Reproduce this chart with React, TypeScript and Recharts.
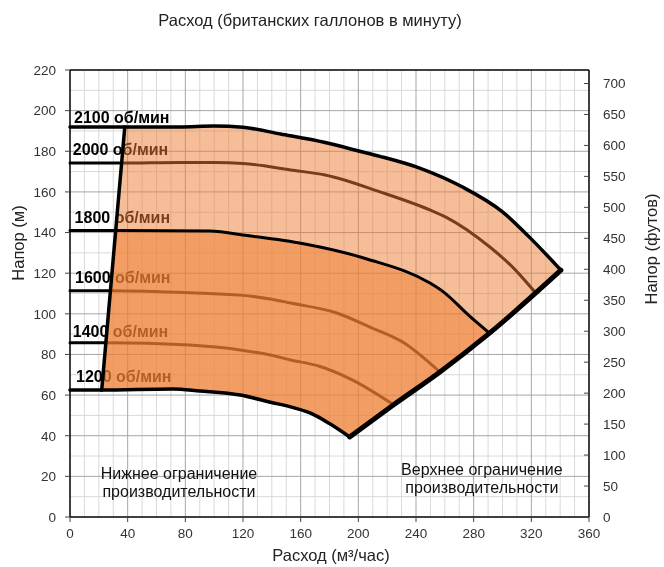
import React from 'react';
import { ComposedChart, XAxis, YAxis, Line, Area, Scatter, ReferenceLine } from 'recharts';

type P = { x: number; y: number };

const FONT = '"Liberation Sans", Arial, sans-serif';

// Axis ticks
const flowTicks = [0, 40, 80, 120, 160, 200, 240, 280, 320, 360];
const flowMinorTicks = [10, 20, 30, 50, 60, 70, 90, 100, 110, 130, 140, 150, 170, 180, 190, 210, 220, 230, 250, 260, 270, 290, 300, 310, 330, 340, 350];
const headTicks = [0, 20, 40, 60, 80, 100, 120, 140, 160, 180, 200, 220];
const headMinorTicks = [10, 30, 50, 70, 90, 110, 130, 150, 170, 190, 210];
const gpmTicks = [0, 200, 400, 600, 800, 1000, 1200];
const feetTicks = [0, 50, 100, 150, 200, 250, 300, 350, 400, 450, 500, 550, 600, 650, 700];
const feetRange: P[] = [{ x: 0, y: 0 }, { x: 0, y: 721.8 }];

// Pump curves (flow m3/h, head m), starting at the minimum-flow line
const curve2100: P[] = [
  { x: 38, y: 192 }, { x: 76, y: 192 }, { x: 100, y: 192.4 }, { x: 120, y: 191.8 }, { x: 146, y: 188.5 },
  { x: 177, y: 184.3 }, { x: 201, y: 180 }, { x: 215, y: 177.5 }, { x: 243, y: 171.6 }, { x: 272, y: 162.5 },
  { x: 300, y: 150.2 }, { x: 319, y: 137.5 }, { x: 340.5, y: 121.5 },
];
const curve2000: P[] = [
  { x: 36, y: 174.2 }, { x: 76, y: 174.5 }, { x: 100, y: 174.5 }, { x: 120, y: 174 }, { x: 153, y: 170.8 },
  { x: 177, y: 168.3 }, { x: 215, y: 160 }, { x: 250, y: 151 }, { x: 261, y: 147.5 }, { x: 291, y: 133 },
  { x: 307, y: 123 }, { x: 322.5, y: 110.7 },
];
const curve1800: P[] = [
  { x: 32, y: 141 }, { x: 97, y: 140.7 }, { x: 123, y: 138.5 }, { x: 162, y: 134.5 }, { x: 206, y: 127 },
  { x: 250, y: 115 }, { x: 259, y: 110.8 }, { x: 277, y: 99 }, { x: 291, y: 90.5 },
];
const curve1600: P[] = [
  { x: 28, y: 111.4 }, { x: 83, y: 110.4 }, { x: 118, y: 109.2 }, { x: 139, y: 107.3 }, { x: 153, y: 105.3 },
  { x: 185, y: 100.4 }, { x: 208, y: 93.5 }, { x: 231, y: 86 }, { x: 256.5, y: 71.4 },
];
const curve1400: P[] = [
  { x: 25, y: 85.8 }, { x: 83, y: 84.6 }, { x: 118, y: 82.2 }, { x: 139, y: 79.7 }, { x: 153, y: 77.3 },
  { x: 173, y: 74.2 }, { x: 196, y: 67.4 }, { x: 224, y: 55.5 },
];
const curve1200: P[] = [
  { x: 22, y: 62.5 }, { x: 71, y: 63 }, { x: 90, y: 62 }, { x: 118, y: 60 }, { x: 139, y: 56.5 },
  { x: 155, y: 53.8 }, { x: 168, y: 50.8 }, { x: 180, y: 46 }, { x: 194, y: 39.4 },
];
const minFlow: P[] = [{ x: 22, y: 62.5 }, { x: 38, y: 192 }];
const maxFlow: P[] = [{ x: 194, y: 39.4 }, { x: 224, y: 55 }, { x: 256.6, y: 71.4 }, { x: 291, y: 90.5 }, { x: 340.5, y: 121.5 }];

// Labels
const rpmLabels = [
  { x: 2.8, y: 193.9, label: '2100 об/мин' },
  { x: 1.9, y: 178.1, label: '2000 об/мин' },
  { x: 3.2, y: 144.8, label: '1800 об/мин' },
  { x: 3.5, y: 115.3, label: '1600 об/мин' },
  { x: 1.9, y: 88.7, label: '1400 об/мин' },
  { x: 4.2, y: 66.6, label: '1200 об/мин' },
];
const noteLabels = [
  { x: 75.6, y: 18.7, label: 'Нижнее ограничение' },
  { x: 75.6, y: 9.8, label: 'производительности' },
  { x: 285.7, y: 20.7, label: 'Верхнее ограничение' },
  { x: 285.7, y: 11.8, label: 'производительности' },
];

// Derived tables
const withStub = (c: P[]): P[] => [{ x: 0, y: c[0].y }, ...c];
const last = (c: P[]) => c[c.length - 1];
const outerRegion: P[] = [
  ...curve2100,
  ...maxFlow.slice(0, -1).reverse(),
  ...curve1200.slice(0, -1).reverse(),
  curve2100[0],
];
const innerRegion: P[] = [
  ...curve1800,
  ...maxFlow.filter((p) => p.x < last(curve1800).x).reverse(),
  ...curve1200.slice(0, -1).reverse(),
  curve1800[0],
];

const RpmLabel = (props: any) => (
  <text x={props.cx} y={props.cy} fontSize={16} fontWeight="bold" fontFamily={FONT} fill="#000">
    {props.payload.label}
  </text>
);
const NoteLabel = (props: any) => (
  <text x={props.cx} y={props.cy} fontSize={16} fontFamily={FONT} fill="#111" textAnchor="middle">
    {props.payload.label}
  </text>
);
const NoShape = () => <g />;

const RightTick = (props: any) => (
  <g>
    <line x1={props.x - 19} x2={props.x - 14} y1={props.y} y2={props.y} stroke="#444" />
    <text x={props.x} y={props.y} dy="0.35em" textAnchor="start" fill="#333" fontSize={13.5} fontFamily={FONT}>
      {props.payload.value}
    </text>
  </g>
);

const titleStyle = { fontSize: 16.5, fontFamily: FONT, fill: '#222' };
const tickStyle = { fill: '#333', fontSize: 13.5, fontFamily: FONT };
const axisLineStyle = { stroke: '#000', strokeWidth: 1.5 };

export default function App() {
  const lineCommon = { type: 'monotone' as const, dataKey: 'y', dot: false, activeDot: false, isAnimationActive: false, xAxisId: 'flow', yAxisId: 'head', strokeLinejoin: 'round' as const, strokeLinecap: 'round' as const };
  const refCommon = { xAxisId: 'flow', yAxisId: 'head', strokeWidth: 1, zIndex: -50 };
  return (
    <div style={{ position: 'fixed', left: 0, top: 0 }}>
      <ComposedChart width={664} height={567} margin={{ top: 30, right: 15, bottom: 10, left: 15 }}>
        <XAxis
          xAxisId="flow" orientation="bottom" type="number" dataKey="x" domain={[0, 360]} ticks={flowTicks}
          interval={0} height={40} tick={tickStyle} tickSize={5} tickMargin={6} axisLine={axisLineStyle}
          tickLine={{ stroke: '#444' }}
          label={() => <text x={331} y={561} textAnchor="middle" {...titleStyle}>Расход (м³/час)</text>}
        />
        <XAxis
          xAxisId="gpm" orientation="top" type="number" domain={[0, 1300]} ticks={gpmTicks}
          interval={0} height={40} tick={tickStyle} tickSize={5} tickMargin={8} axisLine={axisLineStyle}
          tickLine={{ stroke: '#444' }}
          label={() => <text x={310} y={26} textAnchor="middle" {...titleStyle}>Расход (британских галлонов в минуту)</text>}
        />
        <YAxis
          yAxisId="head" orientation="left" type="number" dataKey="y" domain={[0, 220]} ticks={headTicks}
          interval={0} width={55} tick={tickStyle} tickSize={5} tickMargin={9} axisLine={axisLineStyle}
          tickLine={{ stroke: '#444' }}
          label={() => <text x={18} y={243} textAnchor="middle" dominantBaseline="central" transform="rotate(-90, 18, 243)" {...titleStyle}>Напор (м)</text>}
        />
        <YAxis
          yAxisId="feet" orientation="right" type="number" dataKey="y" domain={[0, 721.8]} ticks={feetTicks}
          interval={0} width={60} tick={RightTick} tickSize={0} tickMargin={14} axisLine={axisLineStyle}
          tickLine={false} allowDataOverflow
          label={() => <text x={651} y={249} textAnchor="middle" dominantBaseline="central" transform="rotate(-90, 651, 249)" {...titleStyle}>Напор (футов)</text>}
        />

        {/* grid */}
        {flowMinorTicks.map((v) => (
          <ReferenceLine key={'fx' + v} x={v} stroke="#d9d9d9" {...refCommon} />
        ))}
        {headMinorTicks.map((v) => (
          <ReferenceLine key={'fy' + v} y={v} stroke="#d9d9d9" {...refCommon} />
        ))}
        {flowTicks.slice(1, -1).map((v) => (
          <ReferenceLine key={'mx' + v} x={v} stroke="#a6a6a6" {...refCommon} />
        ))}
        {headTicks.slice(1, -1).map((v) => (
          <ReferenceLine key={'my' + v} y={v} stroke="#a6a6a6" {...refCommon} />
        ))}

        {/* invisible series binding the feet axis */}
        <Scatter xAxisId="flow" yAxisId="feet" dataKey="y" data={feetRange} shape={NoShape} isAnimationActive={false} />

        {/* curves drawn beneath the translucent fills */}
        <Line {...lineCommon} data={withStub(curve2000)} stroke="#000" strokeWidth={3} zIndex={50} />
        <Line {...lineCommon} data={withStub(curve1600)} stroke="#000" strokeWidth={3} zIndex={50} />
        <Line {...lineCommon} data={withStub(curve1400)} stroke="#000" strokeWidth={3} zIndex={50} />
        <Scatter xAxisId="flow" yAxisId="head" dataKey="y" data={rpmLabels} shape={RpmLabel} isAnimationActive={false} zIndex={60} />

        {/* operating region fills */}
        <Area type="linear" dataKey="y" data={outerRegion} xAxisId="flow" yAxisId="head" stroke="none" fill="#ed7d31" fillOpacity={0.5} dot={false} activeDot={false} isAnimationActive={false} zIndex={100} />
        <Area type="linear" dataKey="y" data={innerRegion} xAxisId="flow" yAxisId="head" stroke="none" fill="#ed7d31" fillOpacity={0.5} dot={false} activeDot={false} isAnimationActive={false} zIndex={110} />

        {/* boundary curves on top */}
        <Line {...lineCommon} data={withStub(curve2100)} stroke="#000" strokeWidth={3.5} />
        <Line {...lineCommon} data={withStub(curve1800)} stroke="#000" strokeWidth={3} />
        <Line {...lineCommon} data={withStub(curve1200)} stroke="#000" strokeWidth={3.5} />
        <Line {...lineCommon} type="linear" data={minFlow} stroke="#000" strokeWidth={3.5} />
        <Line {...lineCommon} data={maxFlow} stroke="#000" strokeWidth={5} />

        <Scatter xAxisId="flow" yAxisId="head" dataKey="y" data={noteLabels} shape={NoteLabel} isAnimationActive={false} />
      </ComposedChart>
    </div>
  );
}
